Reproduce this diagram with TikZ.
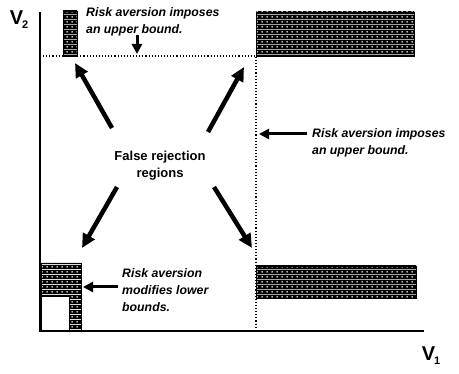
\documentclass[tikz,border=0pt]{standalone}
\usepackage{fontspec}
\setmainfont{Liberation Sans}
\usetikzlibrary{arrows.meta,patterns}

\pgfdeclarepatterninherentlycolored{speckle}
{\pgfpointorigin}{\pgfpoint{5pt}{5pt}}{\pgfpoint{5pt}{5pt}}
{
  \pgfsetfillcolor{black}
  \pgfpathrectangle{\pgfpointorigin}{\pgfpoint{5pt}{5pt}}
  \pgfusepath{fill}
  \pgfsetfillcolor{white}
  \pgfpathcircle{\pgfpoint{2.5pt}{2.5pt}}{1pt}
  \pgfusepath{fill}
}

\newcommand{\axlabel}[2]{{\fontsize{20}{20}\selectfont\bfseries #1\kern-1pt\raisebox{-4pt}{\fontsize{11}{11}\selectfont #2}}}

\begin{document}
\begin{tikzpicture}[x=1pt,y=-1pt,
        note/.style={align=left, inner sep=0pt, anchor=west,
            font=\fontsize{12.3}{17}\selectfont\bfseries\itshape},
        bigarrow/.style={line width=4.5pt, -{Triangle[length=14pt,width=13pt]}},
        pointer/.style={line width=3pt, -{Triangle[length=10pt,width=10pt]}},
        region/.style={draw=black, pattern=speckle}]
        \useasboundingbox (0,0) rectangle (459,374);

        % axes
        \coordinate (O) at (40,331);
        \draw[line width=1.5pt] (40,12) -- (O) -- (424,331);
        \node at (19,20) {\axlabel{V}{2}};
        \node at (431,356) {\axlabel{V}{1}};

        % bounds
        \coordinate (K) at (256,56);
        \draw[dotted, line width=1.1pt] (40,56) -- (K) -- (256,331);

        % hatched regions
        \fill[region] (63,11) rectangle (77,56);
        \fill[region] (256,12) rectangle (414,56);
        \fill[region] (256,266) rectangle (416,298);
        \fill[region] (41,263) -- (81,263) -- (81,331) -- (69,331)
            -- (69,296) -- (41,296) -- cycle;
        \draw[line width=1pt] (41,296) rectangle (69,331);

        % notes
        \node[note] (topnote) at (86,22) {Risk aversion imposes\\an upper bound.};
        \node[note] (rightnote) at (312,143) {Risk aversion imposes\\an upper bound.};
        \node[note] (lownote) at (122,290) {Risk aversion\\modifies lower\\bounds.};
        \node[align=center, inner sep=0pt, font=\fontsize{13}{17}\selectfont\bfseries]
            (false) at (160,166) {False rejection\\regions};

        \coordinate (T1) at (137,35);
        \coordinate (T2) at (137,54);
        \coordinate (R1) at (307,134);
        \coordinate (R2) at (259,134);
        \coordinate (L1) at (118,287);
        \coordinate (L2) at (83,287);
        \draw[pointer] (T1) -- (T2);
        \draw[pointer] (R1) -- (R2);
        \draw[pointer] (L1) -- (L2);

        % false rejection arrows
        \coordinate (A1) at (112,128);
        \coordinate (A2) at (75,63);
        \coordinate (B1) at (208,132);
        \coordinate (B2) at (244,67);
        \coordinate (C1) at (117,187);
        \coordinate (C2) at (82,248);
        \coordinate (D1) at (214,187);
        \coordinate (D2) at (252,248);
        \draw[bigarrow] (A1) -- (A2);
        \draw[bigarrow] (B1) -- (B2);
        \draw[bigarrow] (C1) -- (C2);
        \draw[bigarrow] (D1) -- (D2);

    \end{tikzpicture}
\end{document}
